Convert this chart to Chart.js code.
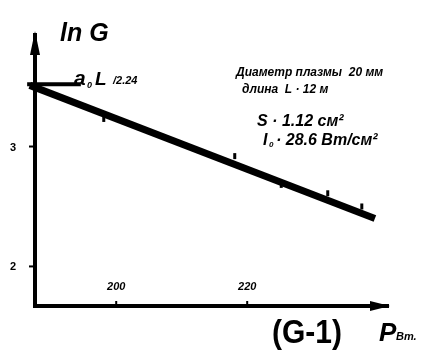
<!DOCTYPE html>
<html>
<head>
<meta charset="utf-8">
<script src="https://cdn.jsdelivr.net/npm/chart.js@4/dist/chart.umd.min.js"></script>
<style>
  html, body { margin: 0; padding: 0; background: #fff; }
  #wrap { width: 433px; height: 354px; }
</style>
</head>
<body>
<div id="wrap"><canvas id="chart" width="433" height="354"></canvas></div>
<script>
// measured points (P, ln G)
const powerVals = [198.1, 218.1, 225.2, 232.3, 237.5];
const lnGVals = [3.23, 2.92, 2.68, 2.61, 2.50];
// fitted straight line ends
const fitX = [186.8, 239.5];
const fitY = [3.51, 2.40];
// intercept marker a0L
const markX = [186.4, 194.6];
const markY = [3.52, 3.52];
const xTicks = [200, 220];
const yTicks = [2, 3];
const xTickLabels = ['200', '220'];
const yTickLabels = ['2', '3'];

const hand = 'italic bold ';
const fam = '"Liberation Sans", Arial, sans-serif';

const toPts = (xs, ys) => xs.map((x, i) => ({x: x, y: ys[i]}));

const sketch = {
    id: 'sketch',
    afterDraw(chart) {
        const c = chart.ctx;
        const a = chart.chartArea;
        const xs = chart.scales.x, ys = chart.scales.y;
        c.save();
        c.fillStyle = '#000';
        c.strokeStyle = '#000';
        // arrow heads
        c.beginPath();
        c.moveTo(a.left, a.top - 4);
        c.lineTo(a.left - 5, a.top + 20);
        c.lineTo(a.left + 5, a.top + 20);
        c.closePath();
        c.fill();
        c.beginPath();
        c.moveTo(a.right + 2, a.bottom);
        c.lineTo(a.right - 18, a.bottom - 5);
        c.lineTo(a.right - 18, a.bottom + 5);
        c.closePath();
        c.fill();
        // ticks
        c.lineWidth = 2;
        yTicks.forEach((v, i) => {
            const y = ys.getPixelForValue(v);
            c.beginPath(); c.moveTo(a.left - 6, y); c.lineTo(a.left, y); c.stroke();
            c.font = 'bold 11px ' + fam;
            c.textAlign = 'center'; c.textBaseline = 'middle';
            c.fillText(yTickLabels[i], a.left - 22, y + 1);
        });
        xTicks.forEach((v, i) => {
            const x = xs.getPixelForValue(v);
            c.beginPath(); c.moveTo(x, a.bottom); c.lineTo(x, a.bottom - 5); c.stroke();
            c.font = hand + '11px ' + fam;
            c.textAlign = 'center'; c.textBaseline = 'middle';
            c.fillText(xTickLabels[i], x, a.bottom - 19);
        });
        // axis titles
        c.textAlign = 'left'; c.textBaseline = 'alphabetic';
        c.font = hand + '25px ' + fam;
        c.fillText('ln G', 60, 41);
        c.font = hand + '21px ' + fam;
        c.fillText('a', 74, 85);
        c.font = hand + '9px ' + fam;
        c.fillText('0', 87, 88);
        c.font = hand + '19px ' + fam;
        c.fillText('L', 95, 85);
        c.font = hand + '11px ' + fam;
        c.fillText('/2.24', 113, 84);
        // notes
        c.font = hand + '12px ' + fam;
        c.fillText('Диаметр плазмы  20 мм', 236, 76, 166);
        c.fillText('длина  L · 12 м', 242, 93, 104);
        c.font = hand + '16px ' + fam;
        c.fillText('S · 1.12 см²', 257, 126, 90);
        c.fillText('I', 263, 145);
        c.font = hand + '8px ' + fam;
        c.fillText('0', 269, 147);
        c.font = hand + '16px ' + fam;
        c.fillText('· 28.6 Вт/см²', 276, 145, 110);
        // figure number and x title
        c.font = 'bold 34px ' + fam;
        c.fillText('(G-1)', 272, 343, 70);
        c.font = hand + '26px ' + fam;
        c.fillText('P', 379, 341);
        c.font = hand + '11px ' + fam;
        c.fillText('Вт.', 396, 340);
        c.restore();
    }
};

new Chart(document.getElementById('chart').getContext('2d'), {
    type: 'scatter',
    data: {
        datasets: [
            {
                data: toPts(fitX, fitY),
                showLine: true,
                borderColor: '#000',
                borderWidth: 7,
                pointRadius: 0,
                clip: false
            },
            {
                data: toPts(markX, markY),
                showLine: true,
                borderColor: '#000',
                borderWidth: 4,
                pointRadius: 0,
                clip: false
            },
            {
                data: toPts(powerVals, lnGVals),
                showLine: false,
                pointStyle: 'line',
                rotation: 90,
                pointRadius: 3,
                borderColor: '#000',
                borderWidth: 3,
                clip: false
            }
        ]
    },
    options: {
        responsive: false,
        animation: false,
        layout: { padding: { left: 35, right: 45, top: 35, bottom: 48 } },
        plugins: { legend: { display: false }, tooltip: { enabled: false } },
        scales: {
            x: {
                type: 'linear', min: 187.6, max: 241.5,
                grid: { display: false },
                ticks: { display: false },
                border: { display: true, color: '#000', width: 4 },
                afterFit: (s) => { s.height = 0; }
            },
            y: {
                type: 'linear', min: 1.67, max: 3.93,
                grid: { display: false },
                ticks: { display: false },
                border: { display: true, color: '#000', width: 4 },
                afterFit: (s) => { s.width = 0; }
            }
        }
    },
    plugins: [sketch]
});
</script>
</body>
</html>
